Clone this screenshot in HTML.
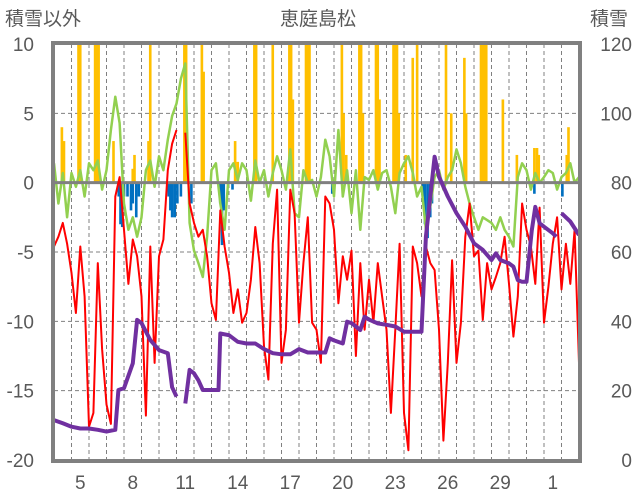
<!DOCTYPE html>
<html><head><meta charset="utf-8"><style>
html,body{margin:0;padding:0;background:#fff;}
svg{display:block;font-family:"Liberation Sans","Noto Sans CJK JP",sans-serif;}
</style></head><body>
<svg id="chart" width="636" height="501" viewBox="0 0 636 501">
<text x="5" y="25" font-size="19" fill="#595959">積雪以外</text>
<text x="318" y="25" font-size="19" fill="#595959" text-anchor="middle">恵庭島松</text>
<text x="590" y="25" font-size="19" fill="#595959">積雪</text>
<g id="grid"></g>
<g id="plot"></g>
<g id="axes"></g>
</svg>
<script>
const xLabels = ["5","8","11","14","17","20","23","26","29","1"];
const xLabelDays = [1,4,7,10,13,16,19,22,25,28];
const leftTicks = [10,5,0,-5,-10,-15,-20];
const rightTicks = [120,100,80,60,40,20,0];
const redV = [-4.6,-3.9,-2.9,-4.4,-6.5,-9.4,-4.6,-8.2,-17.6,-16.6,-5.8,-12,-16,-17.4,-1,0.4,-3.4,-7.3,-4.1,-5.3,-8.2,-16.8,-4.6,-13,-5.3,-4.1,0.9,2.8,3.8,null,3.6,-1.5,-2.9,-3.9,-3.4,-5.3,-8.7,-9.9,-2,-4.6,-6.5,-9.4,-7.7,-10.1,-9.4,-7,-3.2,-5.8,-11.8,-14.2,-4.4,-0.5,-13,-10.6,-0.5,-2.2,-10.1,-5.8,-2.5,-10.1,-10.6,-13,-1,-1.5,-3.4,-8.7,-5.3,-7,-4.9,-12.5,-5.8,-10.6,-7,-10.1,-5.8,-8.2,-10.6,-16.6,-10.6,-4.4,-16.6,-19.3,-4.6,-5.8,-8.2,-4.6,-5.8,-6.3,-10.6,-18.6,-13,-5.6,-13,-10.1,-3.9,-1.5,-5.3,-4.9,-9.9,-5.8,-7.7,-6.8,-5.8,-3.9,-7.3,-11.1,-8.2,-1.5,-3.4,-4.6,-7.3,-1.8,-10.1,-7.5,-4.4,-2.5,-7.7,-4.4,-7.3,-3.4,-13];
const greenV = [1.4,-1.5,0.7,-2.5,0.7,-0.3,0.9,-1,1.4,0.9,1.6,-0.5,0.9,3.8,6.2,4.3,-1.5,-3.4,-2.5,-3.9,-2.5,0.9,1.6,-0.3,1.9,0.9,3.1,4.8,5.7,7.5,8.6,-2.9,-4.9,-5.8,-6.8,-3.9,0.9,1.4,-1.5,-3.4,0.9,1.4,0.2,1.4,0.9,-1.3,1.6,0,0.9,-1,0.7,1.9,0.9,-0.5,2.4,-2.2,-2.5,0.9,0,0.2,-1,0.4,3.1,1.9,-1,3.8,-1,0.9,-2.2,0.9,-3.4,0.4,0.2,0.9,-0.5,0.7,0.9,-0.3,-2.2,0.7,1.4,1.9,0.7,-1,-0.3,-3.4,-1.7,0.4,0.9,-0.5,0.4,0.9,2.4,1.4,-0.3,-1.5,-2.5,-3.4,-2.5,-2.7,-2.9,-3.4,-2.5,-3.4,-3.9,-4.6,0.4,1.4,0.9,-0.5,0.7,0,0.4,0.9,0.7,-0.5,0.4,0.7,1.4,0,0.4];
const purpleT = [0,0.5,1,1.5,2,2.5,3,3.5,3.68,4,4.5,4.75,5,5.5,6,6.5,6.75,7,7.25,7.5,7.75,8,8.25,8.5,9,9.4,9.5,10,10.5,11,11.5,12,12.5,13,13.5,14,14.5,15,15.5,15.75,16,16.5,16.75,17,17.5,17.75,18,18.5,19,19.5,20,20.5,21,21.25,21.5,21.75,22,22.5,23,23.5,24,24.5,25,25.25,25.5,26,26.25,26.5,26.75,27,27.3,27.5,27.75,28,28.5,28.7,28.85,29,29.5,30];
const purpleV = [11.5,10.6,9.6,9.1,9.1,8.7,8.2,8.7,20.2,20.7,27.9,40.4,39.5,34.6,31.7,30.8,21,18.3,null,16.3,26,25,23,20.2,20.2,20.2,36.5,36,34.1,33.6,33.6,32,30.8,30.5,30.5,32,31,31,31,35.1,34.5,33.6,39.9,39.5,37.5,41.3,40.5,39.4,39,38.5,37,37,37,64.4,76,87.5,81.7,76,71.2,67.3,62.5,60.6,57.7,59.6,57.7,56.7,55.8,51.9,51.4,51.4,66.3,73,68.3,67.3,65.4,64.4,null,71.2,68.8,64.9];
const yellowT = [0.45,0.57,1.4,1.5,2.35,2.45,2.55,3.4,4.5,4.6,5.4,5.5,7.45,7.55,8.45,8.55,10.35,10.5,11.45,11.55,12.5,13.45,13.55,13.65,14.4,14.5,14.6,16.45,16.55,16.7,17.45,17.55,17.65,18.4,18.5,18.6,19.4,19.5,19.6,19.7,20.1,20.5,20.75,22.4,22.7,23.45,23.55,24.4,24.5,24.6,24.7,25.65,26.45,27.45,27.6,27.7,29.3,29.4];
const yellowV = [4,3,10,10,10,10,10,3,1,2,3,10,10,10,10,8,3,1.5,10,10,10,10,10,6,10,10,10,10,5,2,10,10,5,10,10,6,10,10,10,5,2,9,10,10,5,9,5,10,10,10,10,6,2,2.5,2.5,2,2,4];
const blueT = [3.7,3.8,3.9,4.0,4.2,4.4,4.5,4.7,4.85,6.55,6.65,6.75,6.9,7.05,7.25,7.85,9.5,9.6,9.7,10.2,15.9,21.1,21.2,21.35,21.5,21.6,27.45,29.05];
const blueV = [-1,-3,-3.2,-1,-1,-2,-1.5,-2.5,-1,-1,-2,-2.5,-2.5,-1.5,-1,-1.5,-1.5,-4.5,-2,-0.5,-0.8,-1,-3,-4,-2.5,-1.5,-0.8,-1];

const X0=54, X1=579, Y0=44, Y1=460, DAYS=30;
const xs = t => X0 + t*(X1-X0)/DAYS;
const yl = v => Y0 + (10-v)*(Y1-Y0)/30;
const yr = v => Y1 - v*(Y1-Y0)/120;
const NS="http://www.w3.org/2000/svg";
function mk(tag, parent, attrs){const e=document.createElementNS(NS,tag);for(const k in attrs)e.setAttribute(k,attrs[k]);parent.appendChild(e);return e;}
const grid=document.getElementById('grid'), plot=document.getElementById('plot'), axes=document.getElementById('axes');
// vertical dashed gridlines at day boundaries
for(let d=1; d<DAYS; d++){
  const l=mk('line',grid,{x1:xs(d),x2:xs(d),y1:Y0,y2:Y1,stroke:'#808080','stroke-width':1,'stroke-dasharray':'4,3'});
  
  
}
leftTicks.forEach(v=>{
  if(v!==0 && v!==10 && v!==-20){
    const l=mk('line',grid,{x1:X0,x2:X1,y1:yl(v),y2:yl(v),stroke:'#808080','stroke-width':1,'stroke-dasharray':'4,3'});
    
    
  }
  const t=mk('text',axes,{x:34,y:yl(v)+7,'font-size':19,fill:'#595959','text-anchor':'end'});
  t.textContent=String(v);
  
  
});
rightTicks.forEach(v=>{
  const t=mk('text',axes,{x:632,y:yr(v)+7,'font-size':19,fill:'#595959','text-anchor':'end'});
  t.textContent=String(v);
  
  
});
xLabels.forEach((s,i)=>{
  const t=mk('text',axes,{x:xs(xLabelDays[i]+0.5),y:489,'font-size':19,fill:'#595959','text-anchor':'middle'});
  t.textContent=s;
  
  
});
const bw=0.15*(X1-X0)/DAYS;
yellowT.forEach((t,i)=>{
  const v=Math.min(10,yellowV[i]);
  const r=mk('rect',plot,{x:xs(t)-bw/2,y:yl(v),width:bw,height:yl(0)-yl(v),fill:'#FFC000'});
  
  
});
blueT.forEach((t,i)=>{
  const v=blueV[i];
  const r=mk('rect',plot,{x:xs(t)-bw/2,y:yl(0),width:bw,height:yl(v)-yl(0),fill:'#0070C0'});
  
  
});
function pathFrom(ts, vs, yf){
  let d='', pen=false;
  vs.forEach((v,i)=>{
    if(v===null){pen=false;return;}
    d+=(pen?'L':'M')+xs(ts[i]).toFixed(1)+','+yf(v).toFixed(1);
    pen=true;
  });
  return d;
}
const stepT = redV.map((_,i)=>i*0.25);
const g=mk('path',plot,{d:pathFrom(stepT,greenV,yl),fill:'none',stroke:'#92D050','stroke-width':2.5,'stroke-linejoin':'round'});


const z=mk('line',plot,{x1:X0,x2:X1,y1:yl(0),y2:yl(0),stroke:'#808080','stroke-width':3});


const rd=mk('path',plot,{d:pathFrom(stepT,redV,yl),fill:'none',stroke:'#FF0000','stroke-width':2,'stroke-linejoin':'round'});


const pp=mk('path',plot,{d:pathFrom(purpleT,purpleV,yr),fill:'none',stroke:'#7030A0','stroke-width':4,'stroke-linejoin':'round'});


const b=mk('rect',axes,{x:X0-1,y:Y0-1,width:X1-X0+2,height:Y1-Y0+2,fill:'none',stroke:'#808080','stroke-width':4});


</script>
</body></html>
